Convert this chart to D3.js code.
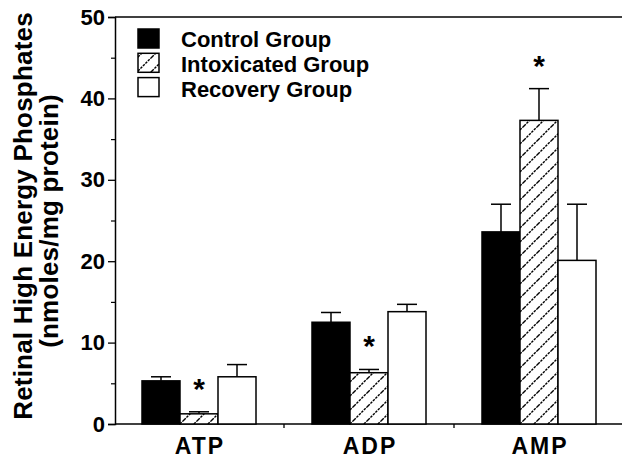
<!DOCTYPE html>
<html><head><meta charset="utf-8">
<script src="https://cdn.jsdelivr.net/npm/d3@7"></script>
<style>
html,body{margin:0;padding:0;background:#fff;}
svg{display:block;font-family:"Liberation Sans",Arial,Helvetica,sans-serif;font-weight:bold;}
</style></head>
<body><svg id="chart" width="622" height="458"></svg>
<script>
const categories = ["ATP", "ADP", "AMP"];
const groups = ["Control Group", "Intoxicated Group", "Recovery Group"];
const controlValues = [5.3, 12.5, 23.6];
const controlErrors = [0.5, 1.2, 3.4];
const intoxicatedValues = [1.25, 6.3, 37.3];
const intoxicatedErrors = [0.25, 0.4, 3.9];
const recoveryValues = [5.8, 13.8, 20.1];
const recoveryErrors = [1.5, 0.9, 6.9];
const yTicks = [0, 10, 20, 30, 40, 50];
const yMinorTicks = [5, 15, 25, 35, 45];

const series = [
  {name: groups[0], values: controlValues, errors: controlErrors, fill: "#000"},
  {name: groups[1], values: intoxicatedValues, errors: intoxicatedErrors, fill: "url(#hatch)"},
  {name: groups[2], values: recoveryValues, errors: recoveryErrors, fill: "#fff"}
];

const svg = d3.select("#chart");
const defs = svg.append("defs");
const pat = defs.append("pattern").attr("id", "hatch").attr("patternUnits", "userSpaceOnUse")
  .attr("width", 14).attr("height", 14);
pat.append("rect").attr("width", 14).attr("height", 14).attr("fill", "#fff");
pat.append("path").attr("d", "M-3.5,3.5 L3.5,-3.5 M0,14 L14,0 M10.5,17.5 L17.5,10.5")
  .attr("stroke", "#000").attr("stroke-width", 1.4).attr("stroke-dasharray", "2.5,1");

const pL = 115, pR = 622, pT = 17, pB = 424;
const y = d3.scaleLinear().domain([0, 50]).range([pB, pT]);
const x0 = d3.scaleBand().domain(categories).range([114, 624]).paddingInner(0.3294).paddingOuter(0.1647);
const x1 = d3.scaleBand().domain(groups).range([0, x0.bandwidth()]);

// frame lines
svg.append("line").attr("x1", pL).attr("x2", pR).attr("y1", pT).attr("y2", pT)
  .attr("stroke", "#000").attr("stroke-width", 1.5);
svg.append("line").attr("x1", pL).attr("x2", pR).attr("y1", pB).attr("y2", pB)
  .attr("stroke", "#000").attr("stroke-width", 1.5);

// y axis
const yAxis = svg.append("g").attr("transform", `translate(${pL},0)`)
  .call(d3.axisLeft(y).tickValues(yTicks).tickSize(7).tickPadding(3).tickFormat(d3.format("d")));
yAxis.select(".domain").attr("stroke-width", 1.5);
yAxis.selectAll(".tick line").attr("stroke-width", 1.3);
yAxis.selectAll(".tick text").attr("font-size", 22).attr("font-weight", "bold")
  .attr("font-family", "Liberation Sans, Arial, sans-serif").attr("fill", "#000");
const yMinor = svg.append("g").attr("transform", `translate(${pL},0)`)
  .call(d3.axisLeft(y).tickValues(yMinorTicks).tickSize(4).tickFormat(""));
yMinor.select(".domain").remove();
yMinor.selectAll(".tick line").attr("stroke-width", 1.2);

// x ticks between groups
const seps = categories.slice(1).map(c => x0(c) - x0.step() * x0.paddingInner() / 2);
svg.selectAll(".xsep").data(seps).join("line")
  .attr("x1", d => d).attr("x2", d => d).attr("y1", pB).attr("y2", pB + 4)
  .attr("stroke", "#000").attr("stroke-width", 1.3);

// x labels
svg.selectAll(".xlab").data(categories).join("text")
  .attr("x", d => x0(d) + x0.bandwidth() / 2 + 1).attr("y", 454)
  .attr("text-anchor", "middle").attr("font-size", 23).attr("letter-spacing", 2)
  .text(d => d);

// bars
const cat = svg.selectAll(".cat").data(categories).join("g")
  .attr("transform", d => `translate(${x0(d)},0)`);
series.forEach((s) => {
  const cx = x1(s.name) + x1.bandwidth() / 2;
  cat.append("line")
    .attr("x1", cx).attr("x2", cx)
    .attr("y1", (d, i) => y(s.values[i])).attr("y2", (d, i) => y(s.values[i] + s.errors[i]))
    .attr("stroke", "#000").attr("stroke-width", 1.5);
  cat.append("line")
    .attr("x1", cx - 10).attr("x2", cx + 10)
    .attr("y1", (d, i) => y(s.values[i] + s.errors[i])).attr("y2", (d, i) => y(s.values[i] + s.errors[i]))
    .attr("stroke", "#000").attr("stroke-width", 1.5);
  cat.append("rect")
    .attr("x", x1(s.name)).attr("width", x1.bandwidth())
    .attr("y", (d, i) => y(s.values[i])).attr("height", (d, i) => pB - y(s.values[i]))
    .attr("fill", s.fill).attr("stroke", "#000").attr("stroke-width", 1.5);
});

// significance stars (intoxicated group)
cat.append("text")
  .attr("x", x1(groups[1]) + x1.bandwidth() / 2)
  .attr("y", (d, i) => y(intoxicatedValues[i] + intoxicatedErrors[i]) - 30 + 17)
  .attr("text-anchor", "middle").attr("font-size", 30).text("*");

// legend
const lg = svg.append("g").attr("transform", "translate(138,29)");
series.forEach((s, i) => {
  lg.append("rect").attr("x", 0).attr("y", i * 24.3).attr("width", 21).attr("height", 19)
    .attr("fill", s.fill).attr("stroke", "#000").attr("stroke-width", 1.5);
  lg.append("text").attr("x", 43).attr("y", i * 24.8 + 18).attr("font-size", 22).text(s.name);
});

// y title
svg.append("text").attr("transform", "translate(31.5,216) rotate(-90)")
  .attr("text-anchor", "middle").attr("font-size", 26).attr("letter-spacing", 0.2)
  .text("Retinal High Energy Phosphates");
svg.append("text").attr("transform", "translate(57.5,221) rotate(-90)")
  .attr("text-anchor", "middle").attr("font-size", 26).attr("letter-spacing", 0.2)
  .text("(nmoles/mg protein)");
</script></body></html>
